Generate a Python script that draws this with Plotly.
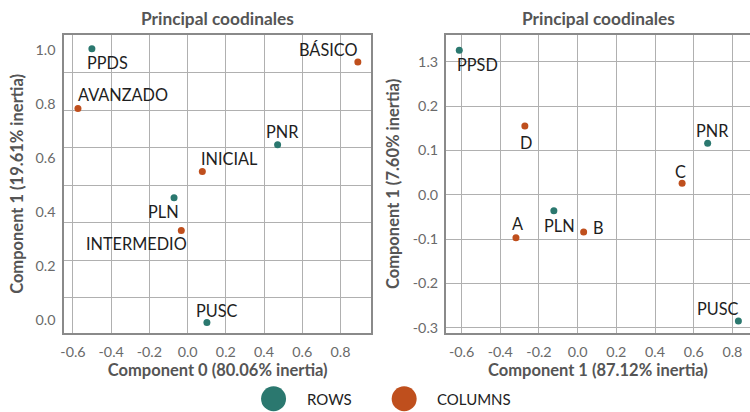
import plotly.graph_objects as go

# ---------------- data ----------------
left_row_labels = ["PPDS", "PNR", "PLN", "PUSC"]
left_row_x = [-0.501, 0.471, -0.071, 0.101]
left_row_y = [1.006, 0.650, 0.454, -0.008]

left_col_labels = ["BÁSICO", "AVANZADO", "INICIAL", "INTERMEDIO"]
left_col_x = [0.891, -0.574, 0.077, -0.033]
left_col_y = [0.957, 0.785, 0.551, 0.333]

right_row_labels = ["PPSD", "PNR", "PLN", "PUSC"]
right_row_x = [-0.612, 0.672, -0.123, 0.831]
right_row_y = [0.326, 0.116, -0.036, -0.285]

right_col_labels = ["D", "C", "A", "B"]
right_col_x = [-0.273, 0.540, -0.319, 0.031]
right_col_y = [0.155, 0.026, -0.097, -0.084]

chart_title = "Principal coodinales"
left_x_title = "Component 0 (80.06% inertia)"
left_y_title = "Component 1 (19.61% inertia)"
right_x_title = "Component 1 (87.12% inertia)"
right_y_title = "Component 1 (7.60% inertia)"

x_tickvals = [-0.6, -0.4, -0.2, 0.0, 0.2, 0.4, 0.6, 0.8]
x_ticktext = ["-0.6", "-0.4", "-0.2", "0.0", "0.2", "0.4", "0.6", "0.8"]
left_y_tickvals = [0.0, 0.2, 0.4, 0.6, 0.8, 1.0]
left_y_ticktext = ["0.0", "0.2", "0.4", "0.6", "0.8", "1.0"]
right_y_tickvals = [-0.3, -0.2, -0.1, 0.0, 0.1, 0.2, 0.3]
right_y_ticktext = ["-0.3", "-0.2", "-0.1", "0.0", "0.1", "0.2", "1.3"]

legend_names = ["ROWS", "COLUMNS"]

# ---------------- styles ----------------
TEAL = "#2b786f"
ORANGE = "#bf4f1d"
FONT = "Lato"
GRID = "#b0b0b0"
FRAME = "#8a8a8a"
TICKC = "#6a6a6a"
TITLEC = "#555555"

# label offsets (xanchor, xshift px, yshift px)
left_row_off = [("left", -7, -14), ("center", 5, 13), ("right", 7, -14), ("left", -13, 12)]
left_col_off = [("right", 1, 12), ("left", -2, 13.5), ("left", -3, 13.5), ("right", 8, -13)]
right_row_off = [("left", -4, -14.5), ("center", 4.5, 12.5), ("center", 5.5, -15), ("right", 2.5, 13)]
right_col_off = [("center", 1, -16), ("center", -1.5, 11.5), ("center", 1.5, 14), ("left", 7, 4.5)]

W, H = 750, 412
top_px, bot_px = 35.5, 335
ydom = [(H - bot_px) / H, (H - top_px) / H]
left_dom = [60.7 / W, 369 / W]
right_dom = [444.3 / W, 1.0]

fig = go.Figure()

def add_pts(xs, ys, color, name, xa, ya):
    fig.add_trace(go.Scatter(x=xs, y=ys, mode="markers", name=name,
                             marker=dict(color=color, size=7),
                             xaxis=xa, yaxis=ya, showlegend=False,
                             hoverinfo="skip"))

add_pts(left_row_x, left_row_y, TEAL, legend_names[0], "x", "y")
add_pts(left_col_x, left_col_y, ORANGE, legend_names[1], "x", "y")
add_pts(right_row_x, right_row_y, TEAL, legend_names[0], "x2", "y2")
add_pts(right_col_x, right_col_y, ORANGE, legend_names[1], "x2", "y2")

annotations = []

def add_labels(labels, xs, ys, offs, xref, yref):
    for lab, x, y, (anc, dx, dy) in zip(labels, xs, ys, offs):
        annotations.append(dict(x=x, y=y, xref=xref, yref=yref, text=lab,
                                showarrow=False, xanchor=anc, yanchor="middle",
                                xshift=dx, yshift=dy,
                                font=dict(family=FONT, size=16.3, color="#1e1e1e")))

add_labels(left_row_labels, left_row_x, left_row_y, left_row_off, "x", "y")
add_labels(left_col_labels, left_col_x, left_col_y, left_col_off, "x", "y")
add_labels(right_row_labels, right_row_x, right_row_y, right_row_off, "x2", "y2")
add_labels(right_col_labels, right_col_x, right_col_y, right_col_off, "x2", "y2")

# subplot titles
for dom in (left_dom, [444.3 / W, 752 / W]):
    annotations.append(dict(x=(dom[0] + dom[1]) / 2, y=(H - 19) / H, xref="paper", yref="paper",
                            text="<b>" + chart_title + "</b>", showarrow=False,
                            xanchor="center", yanchor="middle",
                            font=dict(family=FONT, size=17.3, color=TITLEC)))

# custom legend (large circles)
shapes = []
legend_items = [(271 / W, legend_names[0], TEAL, 303 / W), (402.3 / W, legend_names[1], ORANGE, 433 / W)]
ly = (H - 401.7) / H
for cx, name, col, tx in legend_items:
    shapes.append(dict(type="circle", xref="paper", yref="paper",
                       xsizemode="pixel", ysizemode="pixel",
                       xanchor=cx, yanchor=ly, x0=-12.5, x1=12.5, y0=-12.5, y1=12.5,
                       fillcolor=col, line=dict(width=0)))
    annotations.append(dict(x=tx, y=ly, xref="paper", yref="paper", text=name,
                            showarrow=False, xanchor="left", yanchor="middle",
                            font=dict(family=FONT, size=15, color="#222222")))

axis_common = dict(showline=True, linecolor=FRAME, linewidth=2, zeroline=False,
                   ticks="", tickfont=dict(family=FONT, size=14.3, color=TICKC),
                   gridcolor=GRID, gridwidth=1)
title_font = dict(family=FONT, size=16.5, color=TITLEC)

fig.update_layout(
    width=W, height=H, autosize=False,
    margin=dict(l=0, r=0, t=0, b=0),
    paper_bgcolor="white", plot_bgcolor="white",
    showlegend=False,
    annotations=annotations, shapes=shapes,
    xaxis=dict(domain=left_dom, anchor="y", range=[-0.645, 0.960], mirror=True,
               tickmode="array", tickvals=x_tickvals, ticktext=x_ticktext,
               ticklabelstandoff=5,
               title=dict(text="<b>" + left_x_title + "</b>", font=title_font, standoff=5),
               showgrid=True, **axis_common),
    yaxis=dict(domain=ydom, anchor="x", range=[-0.0452, 1.056], mirror=True,
               tickmode="array", tickvals=left_y_tickvals, ticktext=left_y_ticktext,
               ticklabelstandoff=4,
               title=dict(text="<b>" + left_y_title + "</b>", font=title_font, standoff=8),
               showgrid=False, **axis_common),
    yaxis3=dict(overlaying="y", anchor="x", range=[-0.0452, 1.056], showgrid=True,
                gridcolor=GRID, gridwidth=1, zeroline=False, showticklabels=False,
                showline=False, tickmode="linear", tick0=0.0835, dtick=0.1389),
    xaxis2=dict(domain=right_dom, anchor="y2", range=[-0.681, 0.891], mirror=True,
                tickmode="array", tickvals=x_tickvals, ticktext=x_ticktext,
                ticklabelstandoff=5,
                title=dict(text="<b>" + right_x_title + "</b>", font=title_font, standoff=5),
                showgrid=True, **axis_common),
    yaxis2=dict(domain=ydom, anchor="x2", range=[-0.311, 0.360], mirror=False,
                tickmode="array", tickvals=right_y_tickvals, ticktext=right_y_ticktext,
                ticklabelstandoff=3,
                title=dict(text="<b>" + right_y_title + "</b>", font=title_font, standoff=9),
                showgrid=True, **axis_common),
)
# empty trace so the overlay grid axis renders
fig.add_trace(go.Scatter(x=[], y=[], xaxis="x", yaxis="y3", showlegend=False))

fig.write_html("out.html")
